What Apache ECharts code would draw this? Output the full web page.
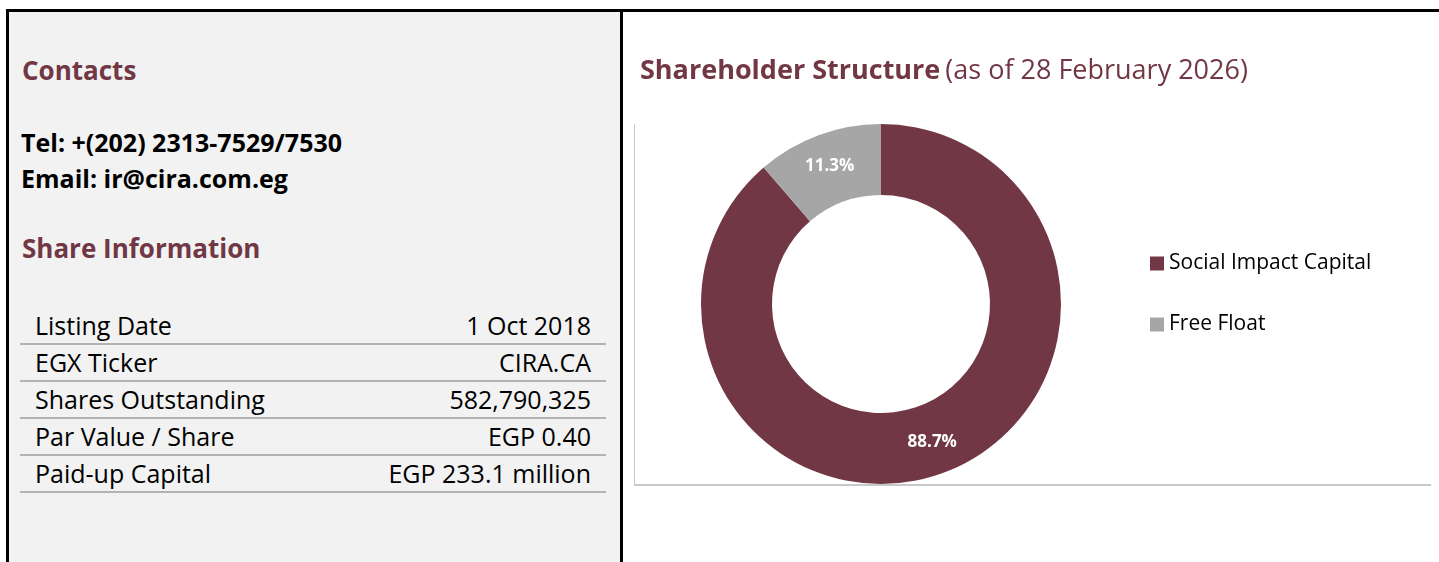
<!DOCTYPE html>
<html>
<head>
<meta charset="utf-8">
<title>Shareholder Structure</title>
<script src="https://cdn.jsdelivr.net/npm/echarts@6/dist/echarts.min.js"></script>
<style>
  html, body {
    margin: 0;
    padding: 0;
    width: 1439px;
    height: 562px;
    overflow: hidden;
    background: #fff;
    font-family: "Open Sans", "Noto Sans", sans-serif;
  }
  .frame-top {
    position: absolute; left: 6px; top: 9px; width: 1433px; height: 3px; background: #000;
  }
  .frame-left {
    position: absolute; left: 6px; top: 9px; width: 3px; height: 553px; background: #000;
  }
  .frame-mid {
    position: absolute; left: 620px; top: 9px; width: 3px; height: 553px; background: #000;
  }
  .left-panel {
    position: absolute; left: 9px; top: 12px; width: 611px; height: 550px; background: #f2f2f2;
  }
  .heading {
    position: absolute; left: 22px; font-size: 26px; line-height: 26px; font-weight: 700; color: #713745;
  }
  .contact {
    position: absolute; left: 21px; font-size: 25px; line-height: 25px; font-weight: 700; color: #000;
  }
  .share-table {
    position: absolute; left: 20px; top: 308px; width: 586px;
  }
  .share-row {
    height: 35px; line-height: 35px; border-bottom: 2px solid #b3b3b3;
    display: flex; justify-content: space-between; padding: 0 15px;
    font-size: 25px; color: #000;
  }
  .chart-box {
    position: absolute; left: 634px; top: 124px; width: 796px; height: 360px;
    border-left: 1px solid #c8c8c8; border-bottom: 2px solid #c8c8c8;
  }
  #chart {
    position: absolute; left: 623px; top: 12px; width: 816px; height: 550px;
  }
</style>
</head>
<body>
<div class="left-panel"></div>
<div class="frame-top"></div>
<div class="frame-left"></div>
<div class="frame-mid"></div>

<div class="heading" style="top:57px">Contacts</div>
<div class="contact" style="top:130px">Tel: +(202) 2313-7529/7530</div>
<div class="contact" style="top:166px">Email: ir@cira.com.eg</div>
<div class="heading" style="top:235px">Share Information</div>
<div class="share-table" id="shareTable"></div>

<div class="chart-box"></div>
<div id="chart"></div>

<script>
// share information table
const infoLabels = ['Listing Date', 'EGX Ticker', 'Shares Outstanding', 'Par Value / Share', 'Paid-up Capital']
const infoValues = ['1 Oct 2018', 'CIRA.CA', '582,790,325', 'EGP 0.40', 'EGP 233.1 million']

// shareholder structure (%)
const holders = ['Social Impact Capital', 'Free Float']
const holderShares = [88.7, 11.3]
const holderColors = ['#713745', '#a6a6a6']

const table = document.getElementById('shareTable')
infoLabels.forEach((label, i) => {
  const row = document.createElement('div')
  row.className = 'share-row'
  row.innerHTML = '<span>' + label + '</span><span>' + infoValues[i] + '</span>'
  table.appendChild(row)
})

const chart = echarts.init(document.getElementById('chart'))

const option = {
  backgroundColor: 'transparent',
  animation: false,
  title: {
    text: '{b|Shareholder Structure} {r|(as of 28 February 2026)}',
    left: 12,
    top: 41,
    textStyle: {
      rich: {
        b: { fontFamily: 'Open Sans', fontSize: 27, fontWeight: 'bold', color: '#713745' },
        r: { fontFamily: 'Open Sans', fontSize: 27, fontWeight: 'normal', color: '#713745' }
      }
    }
  },
  legend: {
    orient: 'vertical',
    left: 527,
    top: 241,
    padding: 0,
    icon: 'rect',
    itemWidth: 14,
    itemHeight: 14,
    itemGap: 40,
    textStyle: {
      fontFamily: 'Open Sans',
      fontSize: 21,
      color: '#000'
    },
    data: holders
  },
  series: [
    {
      type: 'pie',
      center: [258, 292],
      radius: [109, 180],
      startAngle: 90,
      clockwise: true,
      label: {
        show: true,
        position: 'inside',
        color: '#fff',
        fontFamily: 'Open Sans',
        fontWeight: 'bold',
        fontSize: 17,
        formatter: p => p.value.toFixed(1) + '%'
      },
      labelLine: { show: false },
      emphasis: { disabled: true },
      data: holders.map((name, i) => ({
        name: name,
        value: holderShares[i],
        itemStyle: { color: holderColors[i] }
      }))
    }
  ]
}

chart.setOption(option)
</script>
</body>
</html>
